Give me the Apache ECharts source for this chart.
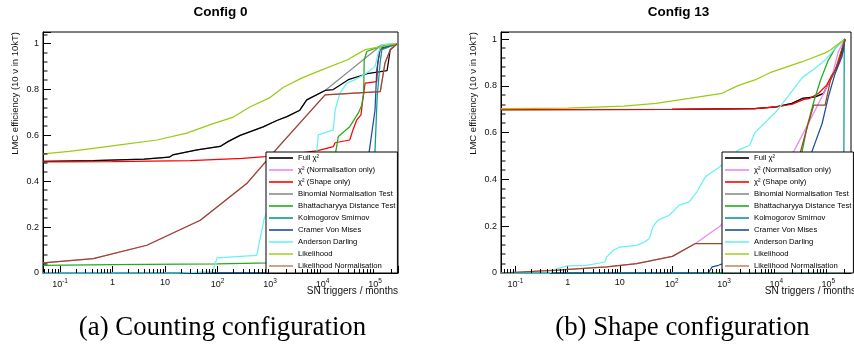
<!DOCTYPE html>
<html>
<head>
<meta charset="utf-8">
<script src="https://cdn.jsdelivr.net/npm/echarts@6/dist/echarts.min.js"></script>
<style>
html, body { margin: 0; padding: 0; background: #fff; }
#cfgA, #cfgB { position: absolute; top: 0; width: 427px; height: 352px; }
#cfgA { left: 0; }
#cfgB { left: 427px; }
</style>
</head>
<body>
<div id="cfgA"></div>
<div id="cfgB"></div>
<script>
// legend entries, in drawing order
var names = ['Full χ²', 'χ² (Normalisation only)', 'χ² (Shape only)', 'Binomial Normalisation Test',
    'Bhattacharyya Distance Test', 'Kolmogorov Smirnov', 'Cramer Von Mises', 'Anderson Darling',
    'Likelihood', 'Likelihood Normalisation'];
var colors = ['#000000', '#ee88ee', '#ff0000', '#8c8c8c', '#22aa22', '#11998e', '#1c4c9c', '#66f2f2', '#99cc11', '#9a4a1e'];
// legend samples are drawn a little lighter in the original for the last entry
var legendColors = ['#000000', '#ee88ee', '#ff0000', '#8c8c8c', '#22aa22', '#11998e', '#1c4c9c', '#66f2f2', '#a8d42a', '#c48c66'];

// tick labels: decades on x, major steps on y
var xDecades = [-1, 0, 1, 2, 3, 4, 5];
var yMajor = [0, 0.2, 0.4, 0.6, 0.8, 1];

// ---- Config 0 (counting) : [SN triggers / months, efficiency]
var fullChi2A = [[0.048,0.487],[0.43,0.49],[4,0.497],[12,0.505],[14,0.515],[41,0.537],[112,0.552],[158,0.573],
    [270,0.60],[740,0.637],[1350,0.665],[2100,0.682],[3700,0.71],[5000,0.755],[11200,0.796],[16000,0.80],
    [31000,0.843],[71000,0.869],[170000,0.883],[180000,0.889],[195000,0.974],[263000,1.0]];
var normA = [[0.048,0.044],[0.43,0.063],[4.5,0.121],[47,0.23],[360,0.39],[1550,0.558],[11200,0.777],
    [126000,0.791],[155000,0.916],[195000,0.974],[263000,1.0]];
var shapeA = [[0.048,0.485],[1,0.486],[30,0.49],[300,0.50],[800,0.507],[3000,0.52],[8100,0.534],[16000,0.551],
    [17400,0.568],[33000,0.58],[38000,0.624],[45000,0.668],[54000,0.69],[58500,0.755],[64700,0.828],
    [108000,0.835],[113000,0.916],[125000,0.974],[263000,1.0]];
var binomialA = [[0.048,0.487],[0.43,0.49],[4,0.497],[12,0.505],[14,0.515],[41,0.537],[112,0.552],[158,0.573],
    [270,0.60],[740,0.637],[1350,0.665],[2100,0.682],[3700,0.71],[5000,0.755],[11200,0.796],[135000,0.995],[263000,1.0]];
var bhattA = [[0.048,0.033],[1,0.036],[100,0.04],[1000,0.044],[5000,0.1],[12000,0.3],[18000,0.534],[20000,0.595],
    [33000,0.638],[48000,0.697],[56000,0.733],[60700,0.784],[62300,0.93],[69800,0.966],[125000,0.988],[263000,1.0]];
var ksA = [[0.048,0.001],[1000,0.002],[30000,0.01],[80000,0.05],[100000,0.534],[110000,0.77],[125000,0.916],
    [135000,0.974],[263000,1.0]];
var cvmA = [[0.048,0.0],[1000,0.002],[30000,0.01],[60000,0.1],[78000,0.534],[100000,0.711],[108000,0.886],
    [125000,0.98],[263000,1.0]];
var adA = [[0.048,0],[19,0],[81,0.006],[98,0.066],[560,0.077],[590,0.08],[770,0.235],[1000,0.3],[5000,0.45],
    [7800,0.534],[8300,0.602],[16000,0.624],[17400,0.711],[21400,0.784],[29000,0.828],[42000,0.843],
    [69000,0.872],[100000,0.90],[115000,0.96],[135000,0.996],[263000,1.0]];
var likelihoodA = [[0.048,0.52],[0.15,0.53],[0.43,0.544],[1.5,0.56],[7,0.58],[26,0.61],[80,0.65],[200,0.68],
    [420,0.725],[1000,0.765],[1800,0.81],[4000,0.85],[8000,0.878],[30000,0.93],[65000,0.974],[263000,1.0]];
var likeNormA = [[0.048,0.044],[0.43,0.063],[4.5,0.121],[47,0.23],[360,0.39],[1550,0.558],[11200,0.777],
    [126000,0.791],[155000,0.916],[195000,0.974],[263000,1.0]];

// ---- Config 13 (shape)
var fullChi2B = [[0.0525,0.698],[100,0.699],[3900,0.703],[10000,0.71],[20000,0.725],[31600,0.746],[56000,0.753],
    [81000,0.768],[117000,0.839],[155000,0.896],[209000,1.0]];
var normB = [[0.0525,0],[0.64,0.012],[5.6,0.026],[21,0.04],[102,0.071],[282,0.126],[830,0.2],[3000,0.33],
    [22000,0.522],[56000,0.696],[117000,0.839],[155000,0.946],[209000,1.0]];
var shapeB = [[0.0525,0.698],[100,0.699],[3900,0.703],[10000,0.71],[16600,0.718],[20400,0.722],[34000,0.742],
    [42600,0.745],[65000,0.768],[93000,0.803],[117000,0.846],[145000,0.875],[166000,0.917],[195000,0.95],[209000,1.0]];
var binomialB = [[0.0525,0.698],[100,0.699],[3900,0.703],[10000,0.71],[20000,0.725],[31600,0.746],[56000,0.753],
    [81000,0.768],[117000,0.839],[155000,0.896],[209000,1.0]];
var bhattB = [[0.0525,0],[1000,0.002],[5000,0.05],[15000,0.25],[31600,0.522],[39800,0.632],[52500,0.732],
    [71000,0.825],[100000,0.91],[135000,0.96],[209000,1.0]];
var ksB = [[0.0525,0],[195000,0],[202000,0.99],[209000,1.0]];
var cvmB = [[0.0525,0],[500,0],[590,0.026],[780,0.033],[5000,0.1],[20000,0.3],[49000,0.522],[76000,0.639],
    [100000,0.753],[135000,0.853],[182000,0.924],[209000,1.0]];
var adB = [[0.0525,0],[0.45,0],[0.64,0.019],[1,0.03],[2.3,0.033],[5.2,0.047],[5.6,0.068],[7.5,0.097],[10,0.111],
    [21,0.118],[30,0.133],[37,0.147],[43,0.197],[54,0.226],[89,0.247],[138,0.29],[214,0.304],[302,0.347],
    [437,0.411],[830,0.454],[1860,0.525],[3100,0.546],[3900,0.6],[10000,0.69],[16600,0.753],[31600,0.835],
    [56000,0.875],[87000,0.91],[135000,0.96],[209000,1.0]];
var likelihoodB = [[0.0525,0.702],[1,0.705],[12,0.713],[50,0.725],[214,0.746],[910,0.768],[1800,0.80],
    [3900,0.825],[7600,0.856],[31600,0.903],[87000,0.941],[110000,0.953],[145000,0.974],[209000,1.0]];
var likeNormB = [[0.0525,0],[0.64,0.012],[5.6,0.026],[21,0.04],[102,0.071],[282,0.126],[5000,0.126],[20000,0.3],
    [29500,0.522],[39500,0.625],[52500,0.718],[87000,0.718],[110000,0.825],[135000,0.867],[209000,1.0]];

var FONT = 'Liberation Sans, Arial, sans-serif';

function minorTicks(xMin, xMax, yMax) {
    var out = [];
    for (var e = -2; e <= 5; e++) {
        for (var k = 2; k <= 9; k++) {
            var v = k * Math.pow(10, e);
            if (v > xMin && v < xMax) out.push([v, 0, 0, -4]);
        }
    }
    for (var i = 1; i * 0.04 < yMax; i++) {
        if (i % 5) out.push([xMin, i * 0.04, 4, 0]);
    }
    return out;
}

function makePanel(dom, p) {
    var chart = echarts.init(dom);
    var gridRight = 427 - p.gridLeft - 355;
    var series = names.map(function (n, i) {
        return {
            type: 'line', name: n, data: p.data[i],
            symbol: 'none', showSymbol: false, animation: false,
            z: i === 3 ? 1 : 2,
            lineStyle: { width: 1.25, color: colors[i] },
            itemStyle: { color: colors[i] }
        };
    });
    series.push({
        type: 'custom', silent: true, animation: false, z: 5,
        data: minorTicks(p.xMin, p.xMax, p.yMax),
        renderItem: function (params, api) {
            var pt = api.coord([api.value(0), api.value(1)]);
            var x = Math.round(pt[0]) + 0.5, y = Math.round(pt[1]);
            return {
                type: 'line',
                shape: { x1: x, y1: y, x2: x + api.value(2), y2: y + api.value(3) },
                style: { stroke: '#000', lineWidth: 1 }
            };
        }
    });

    var cx = p.gridLeft + 355 / 2;
    chart.setOption({
        animation: false,
        grid: {
            left: p.gridLeft, right: gridRight, top: 32, bottom: 79,
            show: true, borderColor: '#000', borderWidth: 1, backgroundColor: 'transparent'
        },
        xAxis: {
            type: 'log', logBase: 10, min: p.xMin, max: p.xMax,
            axisLine: { lineStyle: { color: '#000', width: 1 } },
            axisTick: { inside: true, length: 7, lineStyle: { color: '#000' } },
            splitLine: { show: false },
            axisLabel: {
                margin: 5, color: '#111', fontFamily: FONT, fontSize: 9,
                formatter: function (v) {
                    var e = Math.log10(v), r = Math.round(e);
                    if (Math.abs(e - r) > 1e-6 || xDecades.indexOf(r) < 0) return '';
                    if (r === 0) return '1';
                    if (r === 1) return '10';
                    return '10{s|' + r + '}';
                },
                rich: { s: { fontSize: 6.5, fontFamily: FONT, color: '#111', padding: [0, 0, 6, 0] } }
            }
        },
        yAxis: {
            type: 'value', min: 0, max: p.yMax, interval: 0.2,
            axisLine: { lineStyle: { color: '#000', width: 1 } },
            axisTick: { inside: true, length: 8, lineStyle: { color: '#000' } },
            splitLine: { show: false },
            axisLabel: {
                margin: 4, color: '#111', fontFamily: FONT, fontSize: 9,
                formatter: function (v) {
                    var r = Math.round(v * 10) / 10;
                    if (Math.abs(v - r) > 1e-6 || yMajor.indexOf(r) < 0) return '';
                    return String(r);
                }
            }
        },
        legend: {
            orient: 'vertical', left: p.legendLeft, top: 152,
            data: names.map(function (n, i) { return { name: n, itemStyle: { color: legendColors[i] } }; }),
            selectedMode: false,
            icon: 'rect', itemWidth: 24, itemHeight: 1.6, itemGap: 2,
            padding: [1, 2, 2, 3],
            backgroundColor: '#fff', borderColor: '#000', borderWidth: 1, borderRadius: 0,
            textStyle: { fontFamily: FONT, fontSize: 7.7, color: '#000', lineHeight: 10 }
        },
        graphic: [
            { type: 'text', x: cx, y: 12, style: { text: p.title, align: 'center', verticalAlign: 'middle',
                fontFamily: FONT, fontSize: 13.5, fontWeight: 'bold', fill: '#000' } },
            { type: 'text', x: p.gridLeft - 28, y: 32, rotation: Math.PI / 2,
                style: { text: 'LMC efficiency (10 ν in 10kT)', align: 'right', verticalAlign: 'middle',
                fontFamily: FONT, fontSize: 9.5, fill: '#111' } },
            { type: 'text', x: p.gridLeft + 355, y: 291, style: { text: 'SN triggers / months', align: 'right',
                verticalAlign: 'middle', fontFamily: FONT, fontSize: 10, fill: '#111' } },
            { type: 'text', x: cx + p.captionShift, y: 328, style: { text: p.caption, align: 'center', verticalAlign: 'middle',
                fontFamily: 'Liberation Serif, Times New Roman, serif', fontSize: 26.8, fill: '#000' } }
        ],
        series: series
    });
    return chart;
}

makePanel(document.getElementById('cfgA'), {
    title: 'Config 0', caption: '(a) Counting configuration', captionShift: 2,
    gridLeft: 43, legendLeft: 266, xMin: 0.0474, xMax: 274000, yMax: 1.051,
    data: [fullChi2A, normA, shapeA, binomialA, bhattA, ksA, cvmA, adA, likelihoodA, likeNormA]
});
makePanel(document.getElementById('cfgB'), {
    title: 'Config 13', caption: '(b) Shape configuration', captionShift: 4,
    gridLeft: 74, legendLeft: 295, xMin: 0.0527, xMax: 272000, yMax: 1.03,
    data: [fullChi2B, normB, shapeB, binomialB, bhattB, ksB, cvmB, adB, likelihoodB, likeNormB]
});
</script>
</body>
</html>
